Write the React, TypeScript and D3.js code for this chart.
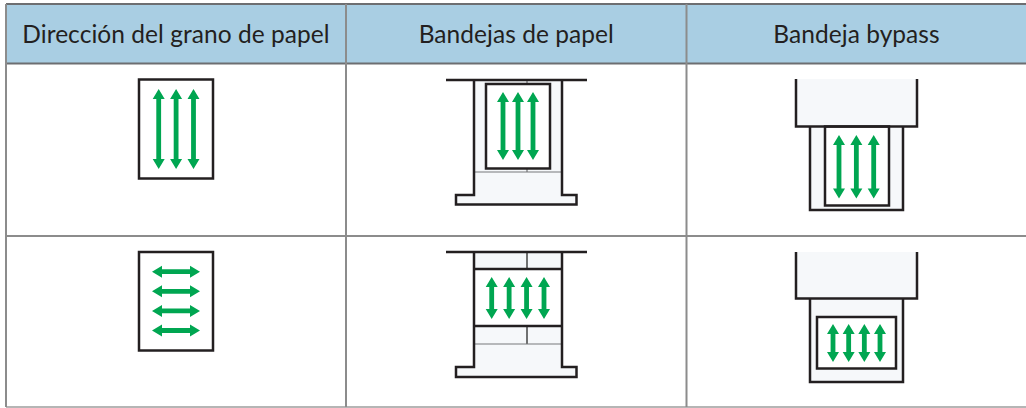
import React from 'react';
import { scaleLinear, scalePoint, path as d3path } from 'd3';

const WIDTH = 1026;
const HEIGHT = 408;

const headers = ['Dirección del grano de papel', 'Bandejas de papel', 'Bandeja bypass'];
// arrows drawn per diagram, row by column
const arrowCounts = [
  [3, 3, 3],
  [4, 4, 4],
];
const GREEN = '#00a651';
const INK = '#231f20';
const TRAY = '#f6f8fa';
const GRID = '#8c8c8c';

const xGrid = scaleLinear().domain([0, 1, 2, 3]).range([6, 346, 686.5, 1026.5]);
const yGrid = scaleLinear().domain([0, 1, 2, 3]).range([4, 63.5, 236, 407]);

// double headed arrow along one axis, from a to b at cross position c
const arrow = (a: number, b: number, c: number, horizontal: boolean, head = 6, len = 10, shaft = 2.4) => {
  const pts: [number, number][] = [
    [a, 0],
    [a + len, -head],
    [a + len, -shaft],
    [b - len, -shaft],
    [b - len, -head],
    [b, 0],
    [b - len, head],
    [b - len, shaft],
    [a + len, shaft],
    [a + len, head],
  ];
  const p = d3path();
  pts.forEach(([u, v], i) => {
    const x = horizontal ? u : c + v;
    const y = horizontal ? c + v : u;
    if (i === 0) p.moveTo(x, y);
    else p.lineTo(x, y);
  });
  p.closePath();
  return p.toString();
};

const Arrows: React.FC<{
  count: number;
  from: number;
  to: number;
  a: number;
  b: number;
  horizontal?: boolean;
}> = ({ count, from, to, a, b, horizontal = false }) => {
  const pos = scalePoint<number>()
    .domain(Array.from({ length: count }, (_, i) => i))
    .range([from, to]);
  return (
    <g fill={GREEN}>
      {pos.domain().map(i => (
        <path key={i} d={arrow(a, b, pos(i) as number, horizontal)} />
      ))}
    </g>
  );
};

const Paper: React.FC<{ x0: number; y0: number; x1: number; y1: number }> = ({ x0, y0, x1, y1 }) => (
  <rect x={x0} y={y0} width={x1 - x0} height={y1 - y0} fill="#fff" stroke={INK} strokeWidth={2.5} />
);

const Line: React.FC<{ d: string; w?: number; c?: string }> = ({ d, w = 2.5, c = INK }) => (
  <path d={d} fill="none" stroke={c} strokeWidth={w} />
);

// outline of the paper tray, with the flange at the bottom
const trayOutline = (top: number, bottom: number, foot: number) =>
  `M474,${top}V${bottom}H456V${foot}H576.5V${bottom}H562V${top}`;

const App: React.FC = () => (
  <svg
    width={WIDTH}
    height={HEIGHT}
    viewBox={`0 0 ${WIDTH} ${HEIGHT}`}
    style={{ position: 'absolute', left: 0, top: 0, background: '#fff' }}
  >
    <rect x={xGrid(0)} y={yGrid(0)} width={xGrid(3) - xGrid(0)} height={yGrid(1) - yGrid(0)} fill="#a9cee3" />

    {headers.map((h, i) => (
      <text
        key={h}
        x={(xGrid(i) + xGrid(i + 1)) / 2}
        y={42.5}
        textAnchor="middle"
        fontFamily="Lato, 'Open Sans', sans-serif"
        fontSize={24.5}
        letterSpacing={0.05}
        fill="#231f20"
      >
        {h}
      </text>
    ))}

    {/* grain direction */}
    <Paper x0={139} y0={79.5} x1={213} y1={178.5} />
    <Arrows count={arrowCounts[0][0]} from={158.7} to={193.5} a={89} b={169} />
    <Paper x0={139} y0={252} x1={213} y1={350.5} />
    <Arrows count={arrowCounts[1][0]} from={271.7} to={330.5} a={152} b={200} horizontal />

    {/* paper trays, row 1 */}
    <path d={`${trayOutline(80, 195, 204.5)}Z`} fill={TRAY} />
    <Line d="M527,80V84M527,168V172" w={1} c="#555" />
    <Line d="M474,172H562" w={1} c="#77787b" />
    <Line d={trayOutline(80, 195, 204.5)} />
    <Line d="M446,80H587" />
    <Paper x0={486} y0={84} x1={550} y1={168.5} />
    <Arrows count={arrowCounts[0][1]} from={503} to={533} a={92} b={160} />

    {/* paper trays, row 2 */}
    <path d={`${trayOutline(252, 367, 377)}Z`} fill={TRAY} />
    <Line d="M527,252V269M527,326V344" w={1.5} c="#444" />
    <Line d="M474,344H562" w={1} c="#77787b" />
    <rect x={474} y={269} width={88} height={57} fill="#fff" />
    <Line d="M474,269H562M474,326H562" />
    <Line d={trayOutline(252, 367, 377)} />
    <Line d="M446,252H587" />
    <Arrows count={arrowCounts[1][1]} from={491.7} to={544} a={277} b={319} />

    {/* bypass, row 1 */}
    <rect x={796} y={79} width={121} height={47.5} fill={TRAY} />
    <rect x={810} y={126.5} width={93} height={83.5} fill={TRAY} />
    <Line d="M810,126.5V210H903V126.5" />
    <Paper x0={825} y0={126.5} x1={889} y1={205.5} />
    <Line d="M796,79V126.5H917V79" />
    <Arrows count={arrowCounts[0][2]} from={839} to={873.7} a={135} b={198.5} />

    {/* bypass, row 2 */}
    <rect x={796} y={252} width={121} height={46.5} fill={TRAY} />
    <rect x={810} y={298.5} width={93} height={83.5} fill={TRAY} />
    <Line d="M810,298.5V382H903V298.5" />
    <Line d="M796,252V298.5H917V252" />
    <Paper x0={817} y0={317} x1={896} y1={368.5} />
    <Arrows count={arrowCounts[1][2]} from={833} to={880} a={324} b={362} />

    {/* grid, the right edge has no rule in the original */}
    <g fill="none">
      {[0, 1, 2, 3].map(i => (
        <line
          key={`h${i}`}
          x1={xGrid(0)}
          x2={WIDTH}
          y1={yGrid(i)}
          y2={yGrid(i)}
          stroke={i === 3 ? '#b5b5b5' : i === 2 ? GRID : '#6d6e71'}
          strokeWidth={2}
        />
      ))}
      {[0, 1, 2].map(i => (
        <line key={`v${i}`} x1={xGrid(i)} x2={xGrid(i)} y1={yGrid(0)} y2={yGrid(3)} stroke={GRID} strokeWidth={2} />
      ))}
    </g>
  </svg>
);

export default App;
